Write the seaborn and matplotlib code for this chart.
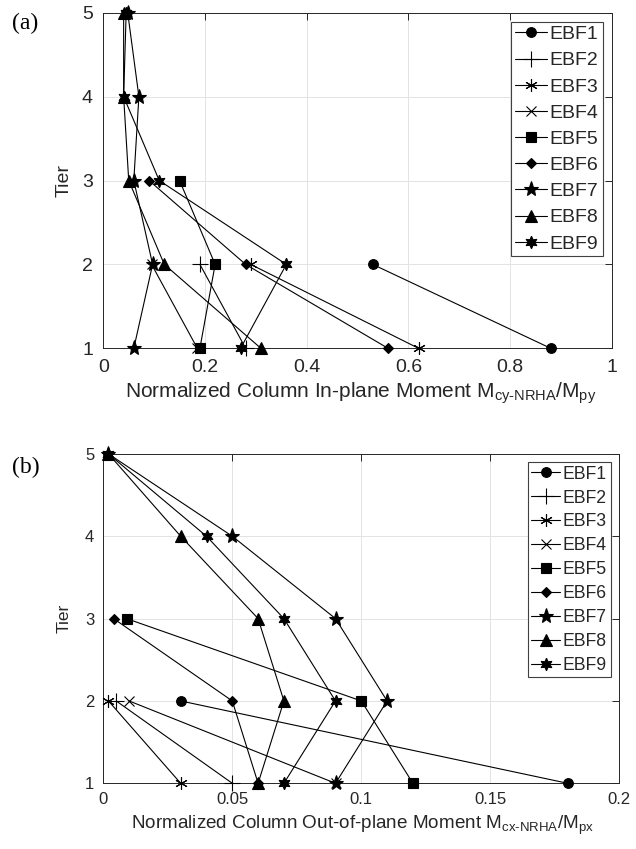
import matplotlib
matplotlib.use("Agg")
import matplotlib.pyplot as plt
import numpy as np
import pandas as pd
import seaborn as sns

# ---------------- data ----------------
frames = ["EBF1", "EBF2", "EBF3", "EBF4", "EBF5", "EBF6", "EBF7", "EBF8", "EBF9"]
tiers_2 = [1, 2]
tiers_3 = [1, 2, 3]
tiers_5 = [1, 2, 3, 4, 5]

# (a) normalized column in-plane moment  M_cy-NRHA / M_py
inplane_EBF1 = [0.88, 0.53]
inplane_EBF2 = [0.28, 0.19]
inplane_EBF3 = [0.62, 0.29]
inplane_EBF4 = [0.185, 0.095]
inplane_EBF5 = [0.19, 0.22, 0.15]
inplane_EBF6 = [0.56, 0.28, 0.09]
inplane_EBF7 = [0.06, 0.097, 0.06, 0.07, 0.048]
inplane_EBF8 = [0.31, 0.12, 0.05, 0.04, 0.04]
inplane_EBF9 = [0.27, 0.36, 0.11, 0.04, 0.045]

# (b) normalized column out-of-plane moment  M_cx-NRHA / M_px
outplane_EBF1 = [0.18, 0.03]
outplane_EBF2 = [0.05, 0.005]
outplane_EBF3 = [0.03, 0.002]
outplane_EBF4 = [0.09, 0.01]
outplane_EBF5 = [0.12, 0.10, 0.009]
outplane_EBF6 = [0.06, 0.05, 0.004]
outplane_EBF7 = [0.09, 0.11, 0.09, 0.05, 0.002]
outplane_EBF8 = [0.06, 0.07, 0.06, 0.03, 0.002]
outplane_EBF9 = [0.07, 0.09, 0.07, 0.04, 0.002]

xticks_a = [0, 0.2, 0.4, 0.6, 0.8, 1.0]
xticklabels_a = ["0", "0.2", "0.4", "0.6", "0.8", "1"]
xticks_b = [0, 0.05, 0.1, 0.15, 0.2]
xticklabels_b = ["0", "0.05", "0.1", "0.15", "0.2"]
yticks = [1, 2, 3, 4, 5]

tiers_of = {"EBF1": tiers_2, "EBF2": tiers_2, "EBF3": tiers_2, "EBF4": tiers_2,
            "EBF5": tiers_3, "EBF6": tiers_3,
            "EBF7": tiers_5, "EBF8": tiers_5, "EBF9": tiers_5}
inplane_of = {"EBF1": inplane_EBF1, "EBF2": inplane_EBF2, "EBF3": inplane_EBF3,
              "EBF4": inplane_EBF4, "EBF5": inplane_EBF5, "EBF6": inplane_EBF6,
              "EBF7": inplane_EBF7, "EBF8": inplane_EBF8, "EBF9": inplane_EBF9}
outplane_of = {"EBF1": outplane_EBF1, "EBF2": outplane_EBF2, "EBF3": outplane_EBF3,
               "EBF4": outplane_EBF4, "EBF5": outplane_EBF5, "EBF6": outplane_EBF6,
               "EBF7": outplane_EBF7, "EBF8": outplane_EBF8, "EBF9": outplane_EBF9}

rows = []
for f in frames:
    for t, a, b in zip(tiers_of[f], inplane_of[f], outplane_of[f]):
        rows.append({"Frame": f, "Tier": t, "InPlane": a, "OutPlane": b})
df = pd.DataFrame(rows)

# ---------------- styles ----------------
MARKERS = {"EBF1": "o", "EBF2": "+", "EBF3": (6, 2, 0), "EBF4": "x",
           "EBF5": "s", "EBF6": "D", "EBF7": "*", "EBF8": "^", "EBF9": (6, 1, 0)}
MSIZE = {"EBF1": 7, "EBF2": 11, "EBF3": 9, "EBF4": 7, "EBF5": 7,
         "EBF6": 5.5, "EBF7": 11, "EBF8": 8, "EBF9": 9}

sns.set_style("white")
plt.rcParams["font.family"] = ["Liberation Sans", "DejaVu Sans"]
plt.rcParams["mathtext.fontset"] = "custom"
plt.rcParams["mathtext.rm"] = "Liberation Sans"
plt.rcParams["mathtext.it"] = "Liberation Sans:italic"
plt.rcParams["mathtext.bf"] = "Liberation Sans:bold"
TXT = "#262626"

W, H = 636, 849
fig = plt.figure(figsize=(W / 100, H / 100), dpi=100)


def px_axes(left, top, right, bottom):
    return fig.add_axes([left / W, 1 - bottom / H, (right - left) / W, (bottom - top) / H])


ax_a = px_axes(103.3, 12.7, 611.7, 348.3)
ax_b = px_axes(103.3, 453.9, 619.3, 783.3)


def draw(ax, col):
    for f in frames:
        sub = df[df["Frame"] == f]
        sns.lineplot(data=sub, x=col, y="Tier", ax=ax, sort=False, estimator=None,
                     color="k", linewidth=0.8, marker=MARKERS[f], markersize=MSIZE[f],
                     markeredgecolor="k", markerfacecolor="k", markeredgewidth=0.8,
                     label=f, clip_on=False, zorder=3)


def style(ax, xticks, xticklabels, tick_fs, xlim, pad):
    ax.set_xlim(*xlim)
    ax.set_ylim(1, 5)
    ax.set_xticks(xticks)
    ax.set_xticklabels(xticklabels)
    ax.set_yticks(yticks)
    ax.grid(True, color="#e3e3e3", linewidth=0.7)
    ax.set_axisbelow(True)
    ax.tick_params(direction="in", top=True, right=True, length=5, width=0.7,
                   labelsize=tick_fs, color=TXT, labelcolor=TXT, pad=pad)
    for s in ax.spines.values():
        s.set_color(TXT)
        s.set_linewidth(0.7)
        s.set_visible(True)


draw(ax_a, "InPlane")
draw(ax_b, "OutPlane")
style(ax_a, xticks_a, xticklabels_a, 14, (0, 1), 7.5)
style(ax_b, xticks_b, xticklabels_b, 12, (0, 0.2), 6.5)

ax_a.set_xlabel("Normalized Column In-plane Moment M$_{\\mathrm{cy\u2010NRHA}}$/M$_{\\mathrm{py}}$",
                fontsize=15, color=TXT)
ax_b.set_xlabel("Normalized Column Out-of-plane Moment M$_{\\mathrm{cx\u2010NRHA}}$/M$_{\\mathrm{px}}$",
                fontsize=13.6, color=TXT)
ax_a.xaxis.set_label_coords(0.507, -0.095)
ax_b.xaxis.set_label_coords(0.502, -0.092)
ax_a.set_ylabel("Tier", fontsize=14, color=TXT)
ax_b.set_ylabel("Tier", fontsize=12.5, color=TXT)
ax_a.yaxis.set_label_coords(-0.06, 0.5)
ax_b.yaxis.set_label_coords(-0.062, 0.5)

leg_a = ax_a.legend(loc="upper right", bbox_to_anchor=(0.982, 0.973), borderaxespad=0,
                    fontsize=14, frameon=True, fancybox=False, edgecolor="#404040",
                    framealpha=1, handlelength=1.65, handletextpad=0.15,
                    borderpad=0.2, labelspacing=0.44)
leg_b = ax_b.legend(loc="upper right", bbox_to_anchor=(0.983, 0.975), borderaxespad=0,
                    fontsize=12.7, frameon=True, fancybox=False, edgecolor="#404040",
                    framealpha=1, handlelength=1.65, handletextpad=0.15,
                    borderpad=0.2, labelspacing=0.39)
for leg in (leg_a, leg_b):
    leg.get_frame().set_linewidth(0.8)
    for t in leg.get_texts():
        t.set_color(TXT)

fig.text(12 / W, 1 - 23 / H, "(a)", family="Liberation Serif", fontsize=17,
         va="center", ha="left", color="k")
fig.text(12 / W, 1 - 467 / H, "(b)", family="Liberation Serif", fontsize=17,
         va="center", ha="left", color="k")

fig.savefig("out.png", dpi=100)
